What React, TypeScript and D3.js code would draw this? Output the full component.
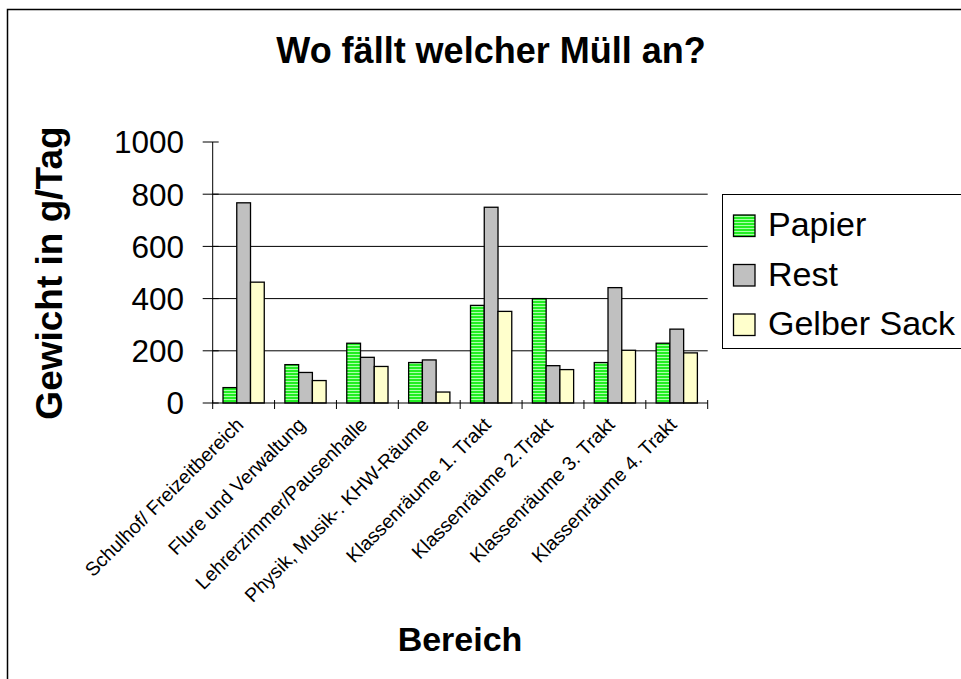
import * as d3 from 'd3';

const categories = [
  'Schulhof/ Freizeitbereich',
  'Flure und Verwaltung',
  'Lehrerzimmer/Pausenhalle',
  'Physik, Musik-. KHW-Räume',
  'Klassenräume 1. Trakt',
  'Klassenräume 2.Trakt',
  'Klassenräume 3. Trakt',
  'Klassenräume 4. Trakt',
];
const seriesNames = ['Papier', 'Rest', 'Gelber Sack'];
const papier = [59, 147, 229, 155, 374, 400, 155, 229];
const rest = [767, 117, 175, 165, 750, 143, 442, 283];
const gelberSack = [463, 86, 140, 42, 351, 128, 202, 192];
const yTicks = [0, 200, 400, 600, 800, 1000];

const FONT = '"Liberation Sans", Arial, sans-serif';

export default function App() {
  const width = 961;
  const height = 679;
  const left = 212.7;
  const right = 707.7;
  const top = 142;
  const bottom = 403;

  const x = d3.scaleBand().domain(categories).range([left, right]).padding(0);
  const xSub = d3
    .scaleBand()
    .domain(seriesNames)
    .range([0, x.bandwidth()])
    .paddingInner(0)
    .paddingOuter(0.75);
  const y = d3.scaleLinear().domain([0, 1000]).range([bottom, top]);

  const fills: Record<string, string> = {
    Papier: 'url(#greenStripes)',
    Rest: '#c0c0c0',
    'Gelber Sack': '#ffffcc',
  };
  const values: Record<string, number[]> = {
    Papier: papier,
    Rest: rest,
    'Gelber Sack': gelberSack,
  };

  return (
    <svg
      width={width}
      height={height}
      style={{ position: 'absolute', left: 0, top: 0, background: '#fff' }}
      fontFamily={FONT}
    >
      <defs>
        <pattern id="greenStripes" width="4" height="3" patternUnits="userSpaceOnUse">
          <rect width="4" height="3" fill="#22ee22" />
          <rect width="4" height="1" fill="#aaffaa" />
        </pattern>
      </defs>

      {/* chart area border */}
      <rect x={7.5} y={9.5} width={1000} height={700} fill="#fff" stroke="#000" strokeWidth={1.5} />

      {/* title */}
      <text x={491} y={63} textAnchor="middle" fontSize={36} fontWeight="bold">
        Wo fällt welcher Müll an?
      </text>

      {/* gridlines */}
      {yTicks
        .filter((t) => t > 0 && t < 1000)
        .map((t) => (
          <line key={'g' + t} x1={left} x2={right} y1={y(t)} y2={y(t)} stroke="#000" strokeWidth={1} />
        ))}

      {/* bars */}
      {categories.map((c, i) => (
        <g key={c} transform={`translate(${x(c)},0)`}>
          {seriesNames.map((s) => (
            <rect
              key={s}
              x={xSub(s)}
              y={y(values[s][i])}
              width={xSub.bandwidth()}
              height={bottom - y(values[s][i])}
              fill={fills[s]}
              stroke="#000"
              strokeWidth={1.3}
            />
          ))}
        </g>
      ))}

      {/* y axis */}
      <line x1={left} x2={left} y1={top} y2={bottom} stroke="#000" />
      {yTicks.map((t) => (
        <g key={'y' + t}>
          <line x1={left - 10} x2={left + 6} y1={y(t)} y2={y(t)} stroke="#000" />
          <text x={184} y={y(t)} dy="0.36em" textAnchor="end" fontSize={31.5}>
            {t}
          </text>
        </g>
      ))}

      {/* x axis */}
      <line x1={left} x2={right} y1={bottom} y2={bottom} stroke="#000" />
      {[...categories.map((c) => x(c) as number), right].map((v, i) => (
        <line key={'xt' + i} x1={v} x2={v} y1={bottom - 3} y2={bottom + 6} stroke="#000" />
      ))}
      {categories.map((c) => {
        const cx = (x(c) as number) + x.bandwidth() / 2 + 1;
        const cy = 426;
        return (
          <text
            key={'xl' + c}
            transform={`translate(${cx},${cy}) rotate(-45)`}
            textAnchor="end"
            fontSize={19.5}
          >
            {c}
          </text>
        );
      })}

      {/* axis titles */}
      <text x={460} y={651} textAnchor="middle" fontSize={34} fontWeight="bold">
        Bereich
      </text>
      <text
        transform={`translate(62,273) rotate(-90)`}
        textAnchor="middle"
        fontSize={37}
        fontWeight="bold"
      >
        Gewicht in g/Tag
      </text>

      {/* legend */}
      <rect x={722.5} y={194.5} width={300} height={154} fill="#fff" stroke="#000" strokeWidth={1} />
      {seriesNames.map((s, i) => {
        const cy = 226 + i * 49.5;
        return (
          <g key={'lg' + s}>
            <rect x={733.5} y={cy - 11} width={21.5} height={21.5} fill={fills[s]} stroke="#000" strokeWidth={1.3} />
            <text x={768} y={cy + 10} fontSize={34}>
              {s}
            </text>
          </g>
        );
      })}
    </svg>
  );
}
